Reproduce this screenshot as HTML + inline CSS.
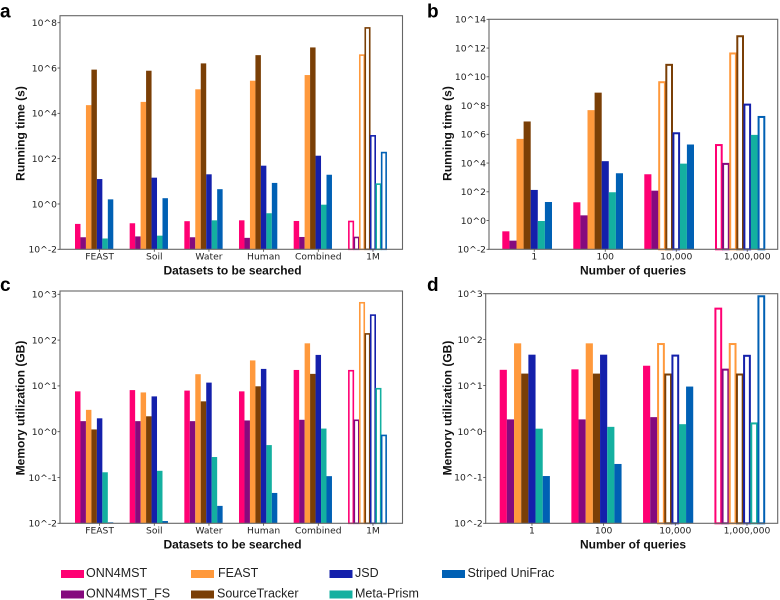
<!DOCTYPE html>
<html lang="en">
<head>
<meta charset="utf-8">
<title>Running time and memory utilization charts</title>
<style>
html,body{margin:0;padding:0;background:#fff;width:780px;height:600px;overflow:hidden}
svg{display:block;filter:blur(0.3px)}
.tick{font-family:"DejaVu Sans",sans-serif;font-size:9.2px;fill:#222}
.title{font-family:"Liberation Sans",sans-serif;font-weight:bold;font-size:12px;fill:#111;text-anchor:middle}
.letter{font-family:"Liberation Sans",sans-serif;font-weight:bold;font-size:19px;fill:#000}
.leg{font-family:"Liberation Sans",sans-serif;font-size:12.5px;fill:#222}
</style>
</head>
<body>
<svg id="fig" xmlns="http://www.w3.org/2000/svg" width="780" height="600" viewBox="0 0 780 600">
  <text class="letter" x="0" y="17.5">a</text>
  <text class="letter" x="427" y="17.5">b</text>
  <text class="letter" x="0" y="291">c</text>
  <text class="letter" x="427" y="291">d</text>

  <text class="title" x="232.5" y="274.5">Datasets to be searched</text>
  <text class="title" x="633" y="274.5">Number of queries</text>
  <text class="title" x="232.5" y="548.5">Datasets to be searched</text>
  <text class="title" x="633" y="548.5">Number of queries</text>

  <text class="title" transform="translate(24.5,133.5) rotate(-90)">Running time (s)</text>
  <text class="title" transform="translate(451.5,133.5) rotate(-90)">Running time (s)</text>
  <text class="title" transform="translate(24.5,408) rotate(-90)">Memory utilization (GB)</text>
  <text class="title" transform="translate(451.5,408) rotate(-90)">Memory utilization (GB)</text>

  <g>
    <g><rect x="61" y="570" width="23" height="8" fill="#ff0073"/><text class="leg" x="86" y="577.2">ONN4MST</text></g>
    <g><rect x="61" y="590.5" width="23" height="8" fill="#850a7e"/><text class="leg" x="86" y="597.4">ONN4MST_FS</text></g>
    <g><rect x="191" y="570" width="23" height="8" fill="#ff993c"/><text class="leg" x="218" y="577.2">FEAST</text></g>
    <g><rect x="191" y="590.5" width="23" height="8" fill="#7a3f06"/><text class="leg" x="217" y="597.4">SourceTracker</text></g>
    <g><rect x="329.5" y="570" width="23" height="8" fill="#1420ab"/><text class="leg" x="355" y="577.2">JSD</text></g>
    <g><rect x="329.5" y="590.5" width="23" height="8" fill="#14b0a0"/><text class="leg" x="355" y="597.4">Meta-Prism</text></g>
    <g><rect x="442" y="570" width="23" height="8" fill="#0060b4"/><text class="leg" x="467.5" y="577.2">Striped UniFrac</text></g>
  </g>
</svg>
<script>
// Categories
const categoriesDatasets = ["FEAST", "Soil", "Water", "Human", "Combined", "1M"];
const categoriesQueries = ["1", "100", "10,000", "1,000,000"];

// Tick labels
const ticksTimeA = ["10^-2", "10^0", "10^2", "10^4", "10^6", "10^8"];
const ticksTimeB = ["10^-2", "10^0", "10^2", "10^4", "10^6", "10^8", "10^10", "10^12", "10^14"];
const ticksMemory = ["10^-2", "10^-1", "10^0", "10^1", "10^2", "10^3"];

// Panel a: running time (s) by dataset
const aOnn4mst = [0.132, 0.141, 0.174, 0.19, 0.178, 0.178];
const aOnn4mstFs = [0.034, 0.037, 0.034, 0.032, 0.035, 0.035];
const aFeast = [2.3e4, 3.2e4, 1.15e5, 2.75e5, 4.9e5, 3.9e6];
const aSourceTracker = [8.5e5, 7.6e5, 1.6e6, 3.7e6, 8.1e6, 6.2e7];
const aJsd = [12.6, 14.5, 20.4, 49, 135, 1070];
const aMetaPrism = [0.03, 0.04, 0.19, 0.39, 0.93, 7.9];
const aStripedUniFrac = [1.6, 1.8, 4.5, 8.5, 19.5, 195];

// Panel b: running time (s) by number of queries
const bOnn4mst = [0.178, 18.6, 1660, 2e5];
const bOnn4mstFs = [0.04, 2.3, 120, 9800];
const bFeast = [4.8e5, 4.8e7, 4.7e9, 4.7e11];
const bSourceTracker = [7.8e6, 7.9e8, 7.6e10, 7.4e12];
const bJsd = [135, 1.35e4, 1.32e6, 1.3e8];
const bMetaPrism = [0.93, 93, 9100, 9.1e5];
const bStripedUniFrac = [19.5, 1950, 1.95e5, 1.8e7];

// Panel c: memory utilization (GB) by dataset
const cOnn4mst = [7.6, 8.1, 7.9, 7.6, 22.3, 22];
const cOnn4mstFs = [1.7, 1.7, 1.7, 1.76, 1.82, 1.82];
const cFeast = [3.0, 7.2, 18, 36, 85, 670];
const cSourceTracker = [1.12, 2.17, 4.6, 9.8, 18.3, 140];
const cJsd = [1.96, 5.9, 11.8, 23.5, 47.5, 360];
const cMetaPrism = [0.13, 0.14, 0.28, 0.51, 1.17, 8.9];
const cStripedUniFrac = [0.0105, 0.0112, 0.024, 0.046, 0.107, 0.85];

// Panel d: memory utilization (GB) by number of queries
const dOnn4mst = [22, 22.5, 27, 490];
const dOnn4mstFs = [1.83, 1.83, 2.05, 23];
const dFeast = [83, 83, 83, 83];
const dSourceTracker = [18.2, 18.2, 18, 18];
const dJsd = [47, 47, 46.5, 46];
const dMetaPrism = [1.15, 1.26, 1.44, 1.55];
const dStripedUniFrac = [0.107, 0.196, 9.5, 910];

// Which series are drawn hollow in each category
const estimatedA = [[], [], [], [], [], [0, 1, 2, 3, 4, 5, 6]];
const estimatedB = [[], [], [2, 3, 4], [0, 1, 2, 3, 4, 6]];
const estimatedC = [[], [], [], [], [], [0, 1, 2, 3, 4, 5, 6]];
const estimatedD = [[], [], [2, 3, 4], [0, 1, 2, 3, 4, 5, 6]];

const seriesNames = ["onn4mst", "onn4mst-fs", "feast", "sourcetracker", "jsd", "meta-prism", "striped-unifrac"];
const seriesColors = ["#ff0073", "#850a7e", "#ff993c", "#7a3f06", "#1420ab", "#14b0a0", "#0060b4"];

const SVGNS = "http://www.w3.org/2000/svg";
const fig = document.getElementById("fig");

function make(tag, attrs, parent) {
  const el = document.createElementNS(SVGNS, tag);
  for (const k in attrs) el.setAttribute(k, attrs[k]);
  parent.appendChild(el);
  return el;
}

function drawPanel(p) {
  const g = make("g", {}, fig);
  
  

  // axis functions
  const exp = s => parseFloat(s.slice(3));
  const yMin = exp(p.ticks[0]);
  const yTop = exp(p.ticks[p.ticks.length - 1]);
  const yScale = v => p.y0 - (Math.log10(v) - yMin) * (p.y0 - p.yTick) / (yTop - yMin);
  const xBar = (c, s) => p.x0 + c * p.groupStep + s * p.barW;
  const xTick = c => xBar(c, 4.5);

  // bars
  p.series.forEach((values, s) => {
    values.forEach((v, c) => {
      const hollow = p.estimated[c].indexOf(s) >= 0;
      const top = yScale(v);
      const inset = hollow ? p.stroke / 2 - 0.3 : 0;
      const bar = make("rect", {
        x: xBar(c, s) + inset,
        y: top + inset,
        width: p.barW - 2 * inset,
        height: Math.max(p.y0 - top - inset, 0.5),
        fill: hollow ? "none" : seriesColors[s],
        stroke: hollow ? seriesColors[s] : "none",
        "stroke-width": hollow ? p.stroke : 0
      }, g);
      
      
    });
  });

  // frame
  const frame = make("rect", {
    x: p.left, y: p.top, width: p.right - p.left, height: p.y0 - p.top,
    fill: "none", stroke: "#666", "stroke-width": 1.1
  }, g);
  
  

  // y ticks
  p.ticks.forEach(label => {
    const y = yScale(Math.pow(10, exp(label)));
    const mark = make("line", { x1: p.left - 2.5, x2: p.left, y1: y, y2: y, stroke: "#444", "stroke-width": 0.8 }, g);
    
    
    const t = make("text", { class: "tick", x: p.left - 3, y: y + 3.3, "text-anchor": "end" }, g);
    
    
    t.textContent = label;
  });

  // x ticks
  p.categories.forEach((label, c) => {
    const x = xTick(c);
    const mark = make("line", { x1: x, x2: x, y1: p.y0, y2: p.y0 + 2.5, stroke: "#444", "stroke-width": 0.8 }, g);
    
    
    const t = make("text", { class: "tick", x: x, y: p.y0 + 10.2, "text-anchor": "middle" }, g);
    
    
    t.textContent = label;
  });
}

drawPanel({
  id: "a", categories: categoriesDatasets, ticks: ticksTimeA, estimated: estimatedA,
  series: [aOnn4mst, aOnn4mstFs, aFeast, aSourceTracker, aJsd, aMetaPrism, aStripedUniFrac],
  left: 60, right: 402.5, top: 15.7, y0: 249.3, yTick: 22.7,
  x0: 75, groupStep: 54.67, barW: 5.47, stroke: 1.6
});
drawPanel({
  id: "b", categories: categoriesQueries, ticks: ticksTimeB, estimated: estimatedB,
  series: [bOnn4mst, bOnn4mstFs, bFeast, bSourceTracker, bJsd, bMetaPrism, bStripedUniFrac],
  left: 489, right: 777.7, top: 19.3, y0: 249.3, yTick: 19.3,
  x0: 502.3, groupStep: 71, barW: 7.1, stroke: 2
});
drawPanel({
  id: "c", categories: categoriesDatasets, ticks: ticksMemory, estimated: estimatedC,
  series: [cOnn4mst, cOnn4mstFs, cFeast, cSourceTracker, cJsd, cMetaPrism, cStripedUniFrac],
  left: 60, right: 402.5, top: 291, y0: 523.3, yTick: 294.3,
  x0: 75, groupStep: 54.67, barW: 5.47, stroke: 1.6
});
drawPanel({
  id: "d", categories: categoriesQueries, ticks: ticksMemory, estimated: estimatedD,
  series: [dOnn4mst, dOnn4mstFs, dFeast, dSourceTracker, dJsd, dMetaPrism, dStripedUniFrac],
  left: 485.7, right: 777.7, top: 293.7, y0: 523.3, yTick: 293.7,
  x0: 499.7, groupStep: 71.67, barW: 7.17, stroke: 2
});
</script>
</body>
</html>
